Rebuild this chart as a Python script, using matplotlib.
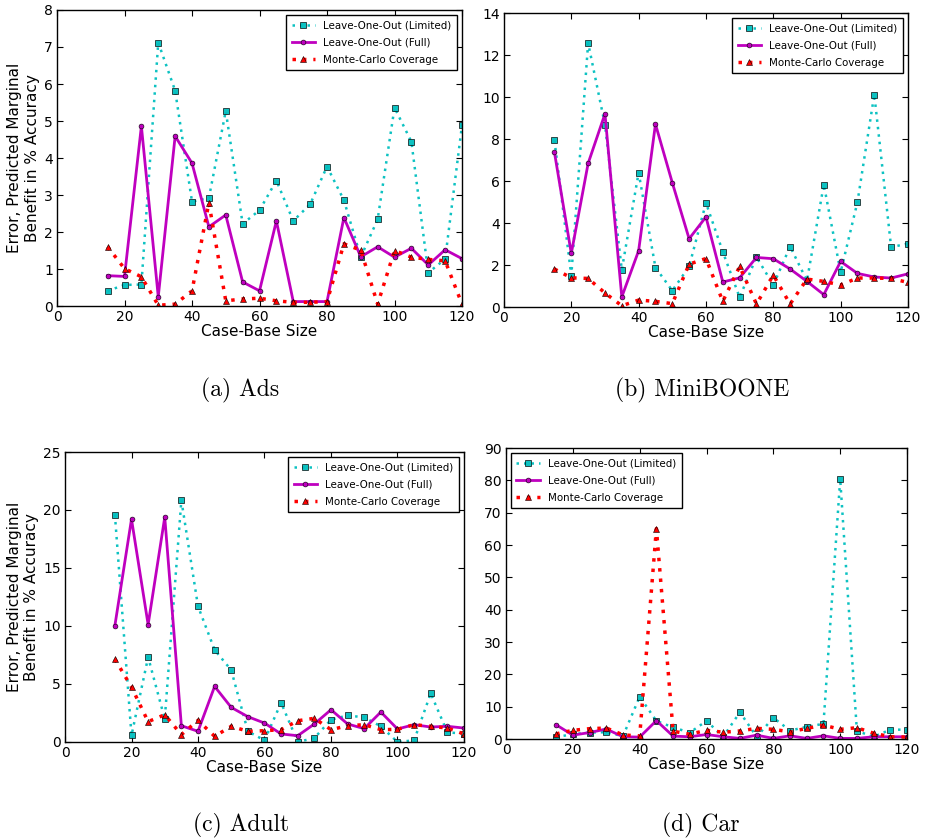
import numpy as np
import matplotlib
matplotlib.use("Agg")
import matplotlib.pyplot as plt

# case-base sizes shared by every panel
sizes = [15, 20, 25, 30, 35, 40, 45, 50, 55, 60, 65, 70, 75, 80, 85, 90, 95, 100, 105, 110, 115, 120]

# (a) Ads
ads_limited = [0.41, 0.57, 0.58, 7.12, 5.82, 2.82, 2.92, 5.27, 2.22, 2.59, 3.39, 2.30, 2.75, 3.77, 2.86, 1.32, 2.34, 5.36, 4.44, 0.90, 1.27, 4.89]
ads_full = [0.82, 0.80, 4.86, 0.25, 4.59, 3.86, 2.14, 2.46, 0.65, 0.41, 2.30, 0.12, 0.12, 0.12, 2.39, 1.33, 1.60, 1.32, 1.56, 1.11, 1.52, 1.28]
ads_mc = [1.60, 1.01, 0.79, 0.02, 0.05, 0.41, 2.79, 0.14, 0.19, 0.21, 0.14, 0.10, 0.10, 0.12, 1.68, 1.51, 0.05, 1.50, 1.32, 1.26, 1.22, 0.05]

# (b) MiniBOONE
mb_limited = [7.93, 1.49, 12.57, 8.68, 1.77, 6.40, 1.88, 0.78, 1.93, 4.96, 2.63, 0.46, 2.38, 1.05, 2.88, 1.25, 5.83, 1.66, 5.00, 10.12, 2.85, 3.02]
mb_full = [7.36, 2.55, 6.84, 9.20, 0.48, 2.68, 8.71, 5.92, 3.25, 4.29, 1.19, 1.39, 2.36, 2.30, 1.81, 1.22, 0.59, 2.17, 1.60, 1.43, 1.38, 1.58]
mb_mc = [1.81, 1.39, 1.36, 0.67, 0.06, 0.33, 0.27, 0.16, 2.04, 2.31, 0.27, 1.93, 0.14, 1.52, 0.14, 1.33, 1.22, 1.05, 1.38, 1.38, 1.36, 1.17]

# (c) Adult
adult_limited = [19.61, 0.57, 7.31, 1.98, 20.84, 11.70, 7.94, 6.19, 0.92, 0.14, 3.38, 0.0, 0.34, 1.92, 2.29, 2.12, 1.35, 0.0, 0.14, 4.19, 0.83, 0.72]
adult_full = [10.03, 19.21, 10.12, 19.38, 1.40, 0.92, 4.79, 2.98, 2.18, 1.63, 0.69, 0.54, 1.55, 2.78, 1.55, 1.15, 2.58, 1.12, 1.49, 1.29, 1.35, 1.20]
adult_mc = [7.14, 4.73, 1.75, 2.35, 0.63, 1.86, 0.49, 1.35, 0.92, 0.97, 1.06, 1.83, 2.04, 1.06, 1.40, 1.49, 1.06, 1.09, 1.49, 1.35, 1.20, 0.69]

# (d) Car
car_limited = [0.6, 1.5, 2.0, 2.1, 0.9, 13.1, 5.6, 3.6, 2.0, 5.6, 0.7, 8.3, 0.7, 6.6, 2.6, 3.8, 4.7, 80.4, 2.5, 0.7, 2.9, 2.9]
car_full = [4.4, 1.2, 2.0, 3.1, 0.7, 0.6, 5.7, 0.9, 0.7, 1.4, 0.7, 0.2, 1.2, 0.2, 1.0, 0.2, 1.0, 0.2, 0.2, 0.7, 0.7, 0.7]
car_mc = [1.6, 2.7, 3.2, 3.4, 1.3, 0.9, 65.1, 2.4, 1.5, 2.7, 2.1, 2.5, 3.3, 3.0, 2.2, 3.3, 4.3, 3.0, 3.5, 1.8, 0.7, 0.6]

captions = ["(a) Ads", "(b) MiniBOONE", "(c) Adult", "(d) Car"]
ylabel = "Error, Predicted Marginal\nBenefit in % Accuracy"

plt.rcParams["xtick.direction"] = "in"
plt.rcParams["ytick.direction"] = "in"
plt.rcParams["xtick.top"] = True
plt.rcParams["ytick.right"] = True
plt.rcParams["xtick.major.size"] = 4
plt.rcParams["ytick.major.size"] = 4
plt.rcParams["axes.linewidth"] = 1.0

fig = plt.figure(figsize=(9.3, 8.4), dpi=100)
fig.patch.set_facecolor("white")


def panel(rect, lim, full, mc, ymax, ystep, legend_loc, show_ylabel):
    ax = fig.add_axes(rect)
    ax.plot(sizes, lim, color="c", linestyle=(0, (1, 2)), linewidth=1.8, marker="s",
            markersize=5, markeredgecolor="k", markeredgewidth=0.5, alpha=0.95,
            label="Leave-One-Out (Limited)")
    ax.plot(sizes, full, color="m", linestyle="-", linewidth=2, marker="o",
            markersize=3.5, markeredgecolor="k", markeredgewidth=0.4,
            label="Leave-One-Out (Full)")
    ax.plot(sizes, mc, color="r", linestyle=(0, (1, 2)), linewidth=2.5, marker="^",
            markersize=5, markeredgecolor="k", markeredgewidth=0.4,
            label="Monte-Carlo Coverage")
    ax.set_xlim(0, 120)
    ax.set_ylim(0, ymax)
    ax.set_xticks(np.arange(0, 121, 20))
    ax.set_yticks(np.arange(0, ymax + 0.1, ystep))
    ax.tick_params(labelsize=10, pad=3)
    ax.set_xlabel("Case-Base Size", fontsize=11, labelpad=0)
    if show_ylabel:
        ax.set_ylabel(ylabel, fontsize=11, labelpad=3)
    leg = ax.legend(loc=legend_loc, fontsize=7.4, fancybox=False,
                    handlelength=2.3, borderaxespad=0.5, framealpha=1,
                    labelspacing=0.7, borderpad=0.5)
    leg.get_frame().set_edgecolor("k")
    leg.get_frame().set_linewidth(1.0)
    return ax


panel([0.0613, 0.6357, 0.4355, 0.3524], ads_limited, ads_full, ads_mc, 8, 1, "upper right", True)
panel([0.5419, 0.6345, 0.4344, 0.3500], mb_limited, mb_full, mb_mc, 14, 2, "upper right", False)
panel([0.0699, 0.1167, 0.4290, 0.3452], adult_limited, adult_full, adult_mc, 25, 5, "upper right", True)
panel([0.5441, 0.1202, 0.4312, 0.3464], car_limited, car_full, car_mc, 90, 10, "upper left", False)

cap_pos = [(240, 390), (702, 390), (241, 825), (701, 825)]
for text, (px, py) in zip(captions, cap_pos):
    fig.text(px / 930, 1 - py / 840, text, ha="center", va="center",
             fontsize=17, family="cmr10")

fig.savefig("out.png", dpi=100, facecolor="white")
